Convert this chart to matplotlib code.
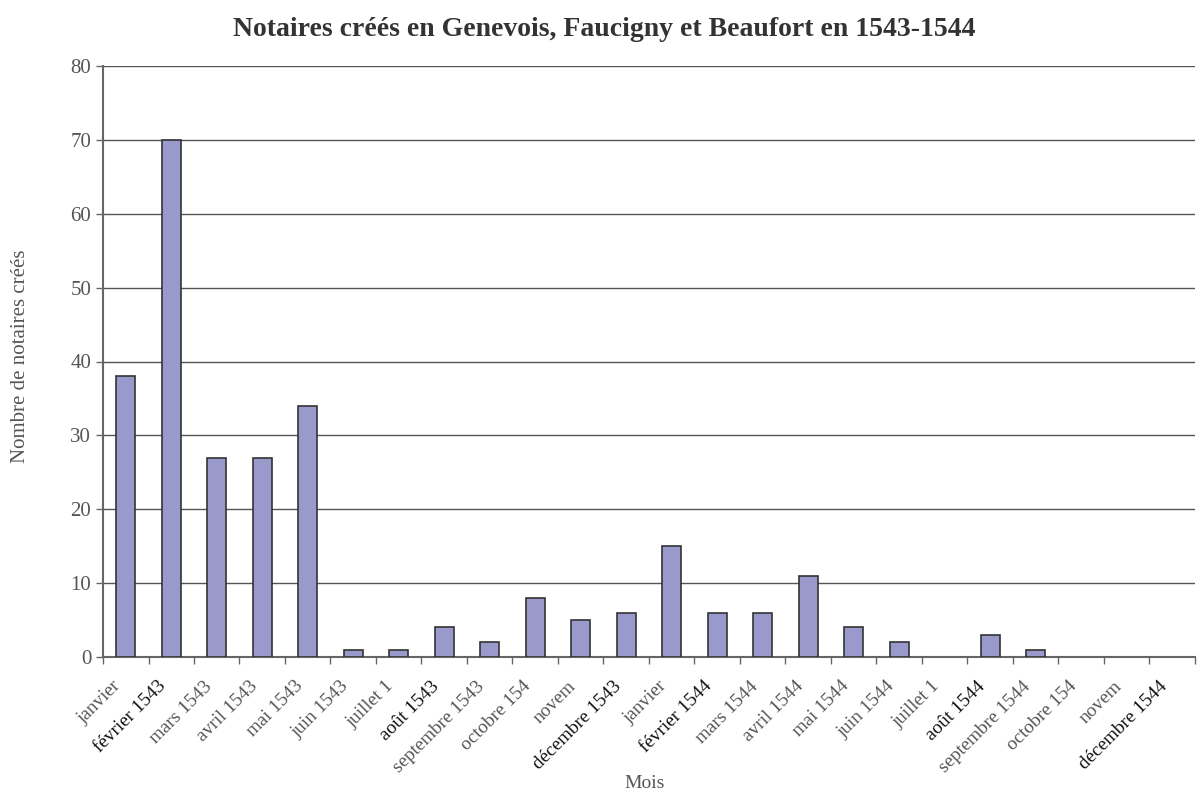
# Notaires créés en Genevois, Faucigny et Beaufort - bar chart by month
import matplotlib
matplotlib.use("Agg")
import matplotlib.pyplot as plt
import numpy as np

# Month labels as shown (some are cut off in the original)
mois = [
    "janvier", "février 1543", "mars 1543", "avril 1543", "mai 1543",
    "juin 1543", "juillet 1", "août 1543", "septembre 1543", "octobre 154",
    "novem", "décembre 1543", "janvier", "février 1544", "mars 1544",
    "avril 1544", "mai 1544", "juin 1544", "juillet 1", "août 1544",
    "septembre 1544", "octobre 154", "novem", "décembre 1544",
]
notaires = [38, 70, 27, 27, 34, 1, 1, 4, 2, 8, 5, 6,
            15, 6, 6, 11, 4, 2, 0, 3, 1, 0, 0, 0]
# labels printed darker in the original
dark_labels = ["février 1543", "août 1543", "décembre 1543",
               "février 1544", "août 1544", "décembre 1544"]

plt.rcParams['font.family'] = ['Liberation Serif', 'DejaVu Serif']

fig = plt.figure(figsize=(11.97, 7.92), dpi=100)
ax = fig.add_axes([103 / 1197, 1 - 657 / 792, 1092 / 1197, 591 / 792])

x = np.arange(len(notaires)) + 0.5
bars = ax.bar(x, notaires, width=0.42, color='#9999CC', edgecolor='#333333',
              linewidth=1.2, zorder=3)
# empty months show no bar at all
for b, v in zip(bars, notaires):
    if v == 0:
        b.set_visible(False)

ax.set_xlim(0, len(notaires))
ax.set_ylim(0, 80)
ax.set_yticks(range(0, 81, 10))
ax.yaxis.grid(True, color='#555555', linewidth=1.0, zorder=0)

# ticks on month boundaries, labels near bar centres
ax.set_xticks(np.arange(len(notaires) + 1), minor=False)
ax.set_xticklabels([])
ax.set_xticks(x - 0.3, minor=True)
ax.set_xticklabels(mois, minor=True, rotation=45, ha='right', va='top',
                   rotation_mode='anchor', fontsize=13.8)
ax.tick_params(axis='x', which='minor', length=0, pad=15)
ax.tick_params(axis='x', which='major', length=5, color='#666666', width=1)
ax.tick_params(axis='y', length=5, color='#666666', width=1,
               labelsize=15, labelcolor='#555555')
for lab in ax.get_xticklabels(minor=True):
    lab.set_color('#111111' if lab.get_text() in dark_labels else '#555555')

for side in ['top', 'right']:
    ax.spines[side].set_visible(False)
for side in ['left', 'bottom']:
    ax.spines[side].set_color('#666666')
    ax.spines[side].set_linewidth(1.5)

fig.text(604 / 1197, 1 - 30 / 792,
         "Notaires créés en Genevois, Faucigny et Beaufort en 1543-1544",
         ha='center', va='center', fontsize=20, fontweight='bold',
         color='#333333')
fig.text(21 / 1197, 1 - 356 / 792, "Nombre de notaires créés",
         rotation=90, ha='center', va='center', fontsize=15, color='#555555')
fig.text(645 / 1197, 1 - 783 / 792, "Mois", ha='center', va='center',
         fontsize=14, color='#555555')

fig.savefig("out.png", dpi=100)
